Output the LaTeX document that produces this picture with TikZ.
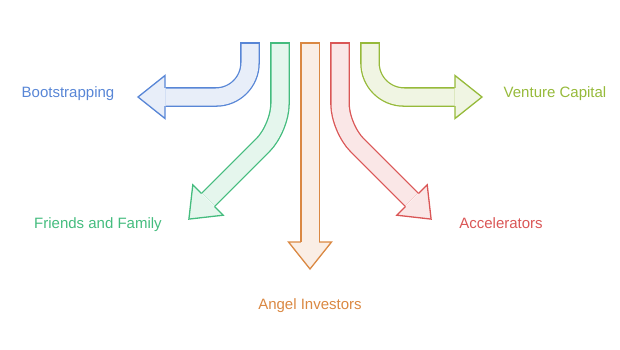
\documentclass[tikz,border=0pt]{standalone}
\usepackage{fontspec}
\setmainfont{Liberation Sans}
\usetikzlibrary{calc}
\definecolor{bootblue}{RGB}{88,134,214}
\definecolor{famgreen}{RGB}{68,188,126}
\definecolor{angelorange}{RGB}{218,136,66}
\definecolor{accelred}{RGB}{218,86,86}
\definecolor{ventolive}{RGB}{150,186,58}
\tikzset{
  shaft/.style={draw=#1,line width=1.3pt,double=#1!14,double distance=17pt},
  shaft/.default=bootblue,
  lbl/.style={text=#1,font=\fontsize{15}{18}\selectfont,inner sep=0pt,anchor=base},
  % arrow pieces
  pics/tip/.style={code={
    \filldraw[draw=#1,fill=#1!14,line width=1.3pt,line join=miter]
      (0,-9.15) -- (0,-21.5) -- (27,0) -- (0,21.5) -- (0,9.15);
  }},
  pics/cap/.style={code={
    \draw[#1,line width=1.3pt,line cap=rect] (-9.15,0) -- (9.15,0);
  }},
}
\begin{document}
\begin{tikzpicture}[x=1pt,y=-1pt]
  \useasboundingbox (0,0) rectangle (620,349);
  % bootstrapping
  \draw[shaft=bootblue,rounded corners=34pt] (250,43) -- (250,97) -- (165.5,97);
  \pic[rotate=180] at (165,97) {tip=bootblue};
  \pic at (250,43) {cap=bootblue};
  % friends and family
  \draw[shaft=famgreen,rounded corners=24pt] (280,43) -- (280,128) -- (208.4,199.6);
  \pic[rotate=225] at (208,200) {tip=famgreen};
  \pic at (280,43) {cap=famgreen};
  % angel investors
  \draw[shaft=angelorange] (310,43) -- (310,242.5);
  \pic[rotate=270] at (310,242) {tip=angelorange};
  \pic at (310,43) {cap=angelorange};
  % accelerators
  \draw[shaft=accelred,rounded corners=24pt] (340,43) -- (340,128) -- (411.6,199.6);
  \pic[rotate=-45] at (412,200) {tip=accelred};
  \pic at (340,43) {cap=accelred};
  % venture capital
  \draw[shaft=ventolive,rounded corners=34pt] (370,43) -- (370,97) -- (454.5,97);
  \pic at (455,97) {tip=ventolive};
  \pic at (370,43) {cap=ventolive};
  % labels
  \node[lbl=bootblue] (boot) at (68,97) {Bootstrapping};
  \node[lbl=famgreen] (family) at (98,228.5) {Friends and Family};
  \node[lbl=angelorange] (angel) at (310,309) {Angel Investors};
  \node[lbl=accelred] (accel) at (501,228.5) {Accelerators};
  \node[lbl=ventolive] (venture) at (555,97) {Venture Capital};
\end{tikzpicture}
\end{document}
